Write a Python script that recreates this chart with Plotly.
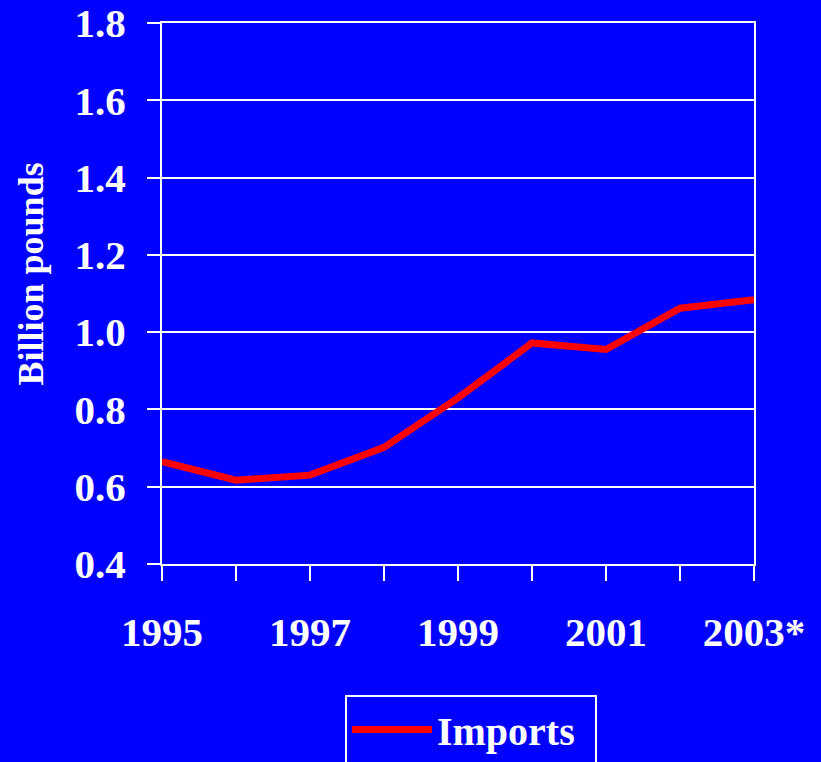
import plotly.graph_objects as go

years = [1995, 1996, 1997, 1998, 1999, 2000, 2001, 2002, 2003]
imports = [0.665, 0.617, 0.630, 0.702, 0.830, 0.972, 0.955, 1.062, 1.084]
x_tick_text = ["1995", "", "1997", "", "1999", "", "2001", "", "2003*"]
y_tick_vals = [0.4, 0.6, 0.8, 1.0, 1.2, 1.4, 1.6, 1.8]
y_tick_text = ["0.4", "0.6", "0.8", "1.0", "1.2", "1.4", "1.6", "1.8"]

BLUE = "#0000FF"
FONT = "Liberation Serif, Times New Roman, serif"

fig = go.Figure()
fig.add_trace(go.Scatter(
    x=years, y=imports, mode="lines", name="Imports",
    line=dict(color="#FF0000", width=7),
))

fig.update_layout(
    width=821, height=762,
    paper_bgcolor=BLUE, plot_bgcolor=BLUE,
    margin=dict(l=162, r=67, t=23, b=198, autoexpand=False),
    font=dict(family=FONT, color="white", size=40, weight="bold"),
    showlegend=True,
    legend=dict(
        orientation="h",
        x=0.309, xanchor="left", y=-0.242, yanchor="top",
        bgcolor=BLUE, bordercolor="white", borderwidth=2,
        font=dict(family=FONT, size=40, color="white", weight="bold"),
        itemwidth=80, entrywidth=153,
    ),
    annotations=[dict(
        text="Billion pounds", textangle=-90, showarrow=False,
        xref="paper", yref="paper", x=-0.2213, y=0.537,
        xanchor="center", yanchor="middle",
        font=dict(family=FONT, size=36, color="white", weight="bold"),
    )],
)

fig.update_xaxes(
    range=[1995, 2003], tickvals=years, ticktext=x_tick_text,
    showgrid=False, zeroline=False,
    showline=True, linecolor="white", linewidth=2, mirror=True,
    ticks="outside", ticklen=15, tickwidth=2, tickcolor="white",
    tickfont=dict(family=FONT, size=41, color="white", weight="bold"),
    ticklabelstandoff=16,
)
fig.update_yaxes(
    range=[0.4, 1.8], tickvals=y_tick_vals, ticktext=y_tick_text,
    showgrid=True, gridcolor="white", gridwidth=2, zeroline=False,
    showline=True, linecolor="white", linewidth=2, mirror=True,
    ticks="outside", ticklen=13, tickwidth=2, tickcolor="white",
    tickfont=dict(family=FONT, size=41, color="white", weight="bold"),
    ticklabelstandoff=13,
)

fig.write_html(
    "out.html",
    config={"displayModeBar": False},
    post_script="document.body.style.margin='0';document.body.style.overflow='hidden';",
)
